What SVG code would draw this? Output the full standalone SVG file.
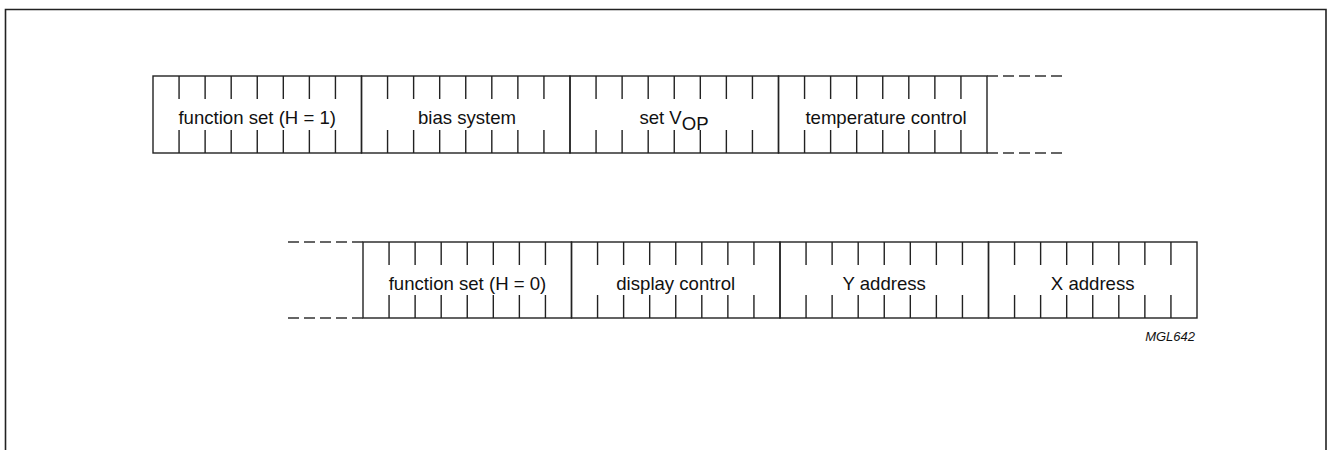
<svg xmlns="http://www.w3.org/2000/svg" width="1327" height="450" viewBox="0 0 1327 450">
  <style>
    .frame { fill: none; stroke: #222; stroke-width: 1.6; }
    .box { fill: none; stroke: #222; stroke-width: 1.4; }
    .tick { stroke: #222; stroke-width: 1.4; }
    .dash { stroke: #333; stroke-width: 1.4; stroke-dasharray: 11 5; fill: none; }
    .lbl { font-family: "Liberation Sans", Arial, sans-serif; font-size: 18.6px; fill: #111; text-anchor: middle; }
    .code { font-family: "Liberation Sans", Arial, sans-serif; font-size: 13px; font-style: italic; fill: #111; text-anchor: end; }
  </style>
  <defs>
    <!-- one 8-bit register field: 208.5 wide, 7 tick marks top and bottom -->
    <g id="field-top">
      <rect class="box" x="0" y="0" width="208.5" height="77"/>
      <path class="tick" d="M26.06 0v23M52.12 0v23M78.19 0v23M104.25 0v23M130.31 0v23M156.37 0v23M182.44 0v23
                            M26.06 77v-23M52.12 77v-23M78.19 77v-23M104.25 77v-23M130.31 77v-23M156.37 77v-23M182.44 77v-23"/>
    </g>
    <g id="field-bot">
      <rect class="box" x="0" y="0" width="208.5" height="76"/>
      <path class="tick" d="M26.06 0v23M52.12 0v23M78.19 0v23M104.25 0v23M130.31 0v23M156.37 0v23M182.44 0v23
                            M26.06 76v-23M52.12 76v-23M78.19 76v-23M104.25 76v-23M130.31 76v-23M156.37 76v-23M182.44 76v-23"/>
    </g>
  </defs>

  <rect width="1327" height="450" fill="#fff"/>
  <path class="frame" d="M5.5 460V9.5H1326V460"/>

  <!-- extended instruction set (H = 1) -->
  <g id="function-set-h1">
    <use href="#field-top" x="153" y="76"/>
    <text class="lbl" x="257.2" y="124">function set (H = 1)</text>
  </g>
  <g id="bias-system">
    <use href="#field-top" x="361.5" y="76"/>
    <text class="lbl" x="467" y="124">bias system</text>
  </g>
  <g id="set-vop">
    <use href="#field-top" x="570" y="76"/>
    <text class="lbl" x="674" y="124">set V<tspan dy="6">OP</tspan></text>
  </g>
  <g id="temperature-control">
    <use href="#field-top" x="778.5" y="76"/>
    <text class="lbl" x="886" y="124">temperature control</text>
  </g>

  <!-- basic instruction set (H = 0) -->
  <g id="function-set-h0">
    <use href="#field-bot" x="363" y="242"/>
    <text class="lbl" x="467.5" y="290">function set (H = 0)</text>
  </g>
  <g id="display-control">
    <use href="#field-bot" x="571.5" y="242"/>
    <text class="lbl" x="675.7" y="290">display control</text>
  </g>
  <g id="y-address">
    <use href="#field-bot" x="780" y="242"/>
    <text class="lbl" x="884.2" y="290">Y address</text>
  </g>
  <g id="x-address">
    <use href="#field-bot" x="988.5" y="242"/>
    <text class="lbl" x="1092.7" y="290">X address</text>
  </g>

  <!-- continuation lines between the two rows -->
  <g id="connectors">
    <path class="dash" d="M987 76H1063M987 153H1063"/>
    <path class="dash" d="M363 242H288M363 318H288"/>
  </g>

  <text class="code" x="1195" y="341">MGL642</text>
</svg>
